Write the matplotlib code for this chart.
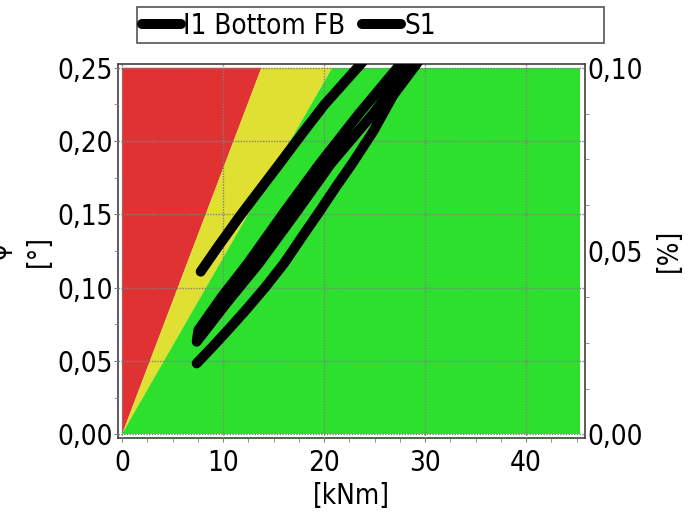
import matplotlib
matplotlib.use('Agg')

import matplotlib.pyplot as plt
from matplotlib.lines import Line2D
from matplotlib.patches import Rectangle
from matplotlib.ticker import MultipleLocator, FuncFormatter

plt.rcParams['font.family'] = ['DejaVu Sans']
plt.rcParams['font.stretch'] = 'condensed'

# zone limits: moment [kNm] reached at the top of the chart (0.25 deg)
x_end = 45.35
y_top = 0.25
red_limit_x = 13.8
yellow_limit_x = 20.8

# measured curves
i1_x = [7.79, 9.5, 11.68, 15.48, 17.95, 20.0, 23.56, 24.2]
i1_y = [0.111, 0.128, 0.149, 0.1835, 0.2062, 0.2245, 0.252, 0.257]

# S1: loading branch, unloading branch, reloading branch
s1_x = [7.39, 9.0, 10.6, 12.35, 14.2, 16.04, 17.8, 19.6, 21.2, 22.8, 24.9, 26.86, 29.1, 29.7,
        29.0, 28.5, 24.9, 20.7, 17.2, 13.55, 10.4, 7.39,
        7.56, 9.9, 12.45, 16.0, 19.6, 23.5, 27.5, 28.1]
s1_y = [0.0484, 0.060, 0.072, 0.0855, 0.1005, 0.1166, 0.1345, 0.1525, 0.169, 0.1848, 0.207, 0.2314, 0.252, 0.258,
        0.258, 0.252, 0.219, 0.1848, 0.151, 0.1166, 0.090, 0.0632,
        0.0711, 0.094, 0.1166, 0.151, 0.1848, 0.219, 0.252, 0.258]

series_names = ['I1 Bottom FB', 'S1']

red = '#e03232'
yellow = '#e0e032'
green = '#2ee02e'


def comma(v, pos):
    return ('%.2f' % v).replace('.', ',')


fig = plt.figure(figsize=(6.97, 5.13), dpi=100)
ax = fig.add_axes([118 / 697, 1 - 437.7 / 513, 467 / 697, 373.7 / 513])

ax.fill([0, red_limit_x, 0], [0, y_top, y_top], color=red, lw=0, zorder=1)
ax.fill([0, yellow_limit_x, red_limit_x], [0, y_top, y_top], color=yellow, lw=0, zorder=1)
ax.fill([0, x_end, x_end, yellow_limit_x], [0, 0, y_top, y_top], color=green, lw=0, zorder=1)

ax.plot(i1_x, i1_y, color='black', lw=7.2, solid_capstyle='round', solid_joinstyle='round', zorder=3)
ax.plot(s1_x, s1_y, color='black', lw=7.2, solid_capstyle='round', solid_joinstyle='round', zorder=3)

ax.set_xlim(-0.4, 45.84)
ax.set_ylim(-0.0023, 0.2526)
ax.xaxis.set_major_locator(MultipleLocator(10))
ax.xaxis.set_minor_locator(MultipleLocator(2.5))
ax.yaxis.set_major_locator(MultipleLocator(0.05))
ax.yaxis.set_minor_locator(MultipleLocator(0.025))
ax.yaxis.set_major_formatter(FuncFormatter(comma))
ax.set_axisbelow(False)
ax.grid(True, color='#808080', linestyle=(0, (1, 1)), linewidth=1)

for s in ax.spines.values():
    s.set_color('#404040')
    s.set_linewidth(1.2)

ax.tick_params(which='both', direction='out', color='#808080', labelsize=20)
ax.tick_params(which='major', length=3, pad=1)
ax.tick_params(which='minor', length=3)
ax.tick_params(axis='x', which='major', pad=5)

ax.set_xlabel('[kNm]', fontsize=20)
ax.xaxis.set_label_coords(0.5, -0.118)
ax.set_ylabel('φ\n[°]', fontsize=20, linespacing=1.6)
ax.yaxis.set_label_coords(-0.139, 0.5)

ax2 = ax.twinx()
lo, hi = ax.get_ylim()
ax2.set_ylim(lo * 0.4, hi * 0.4)
ax2.yaxis.set_major_locator(MultipleLocator(0.05))
ax2.yaxis.set_minor_locator(MultipleLocator(0.0125))
ax2.yaxis.set_major_formatter(FuncFormatter(comma))
ax2.tick_params(which='both', direction='out', color='#808080', labelsize=20, length=3)
ax2.tick_params(which='major', length=0, pad=1.5)
for s in ax2.spines.values():
    s.set_visible(False)
ax2.set_ylabel('[%]', fontsize=20)
ax2.yaxis.set_label_coords(1.15, 0.5)

# legend box
fig.add_artist(Rectangle((137 / 697, 1 - 43.3 / 513), 467 / 697, 36.6 / 513,
                         transform=fig.transFigure, fill=False, edgecolor='#555555', lw=1.2))
handles = [Line2D([], [], color='black', lw=7.2, solid_capstyle='round') for _ in series_names]
fig.legend(handles, series_names, loc='upper left', bbox_to_anchor=(139 / 697, 1 - 9 / 513),
           ncol=2, frameon=False, fontsize=20, handlelength=1.4, handletextpad=0.1,
           columnspacing=0.6, borderpad=0.1, borderaxespad=0)

fig.savefig('out.png', dpi=100)
